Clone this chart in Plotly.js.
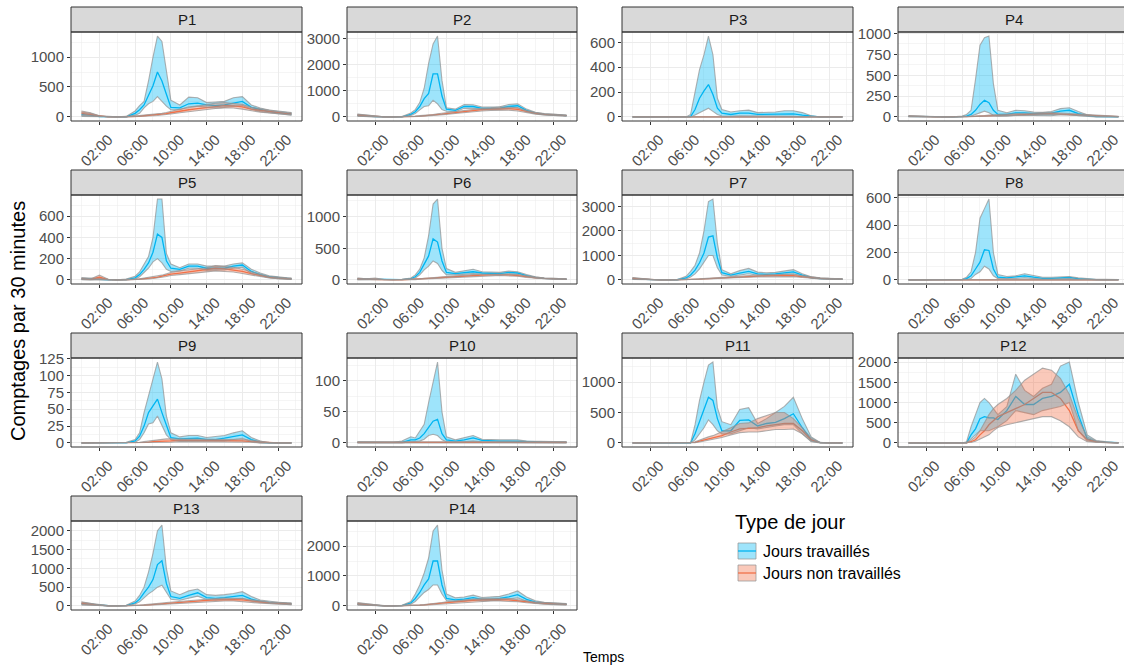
<!DOCTYPE html>
<html>
<head>
<meta charset="utf-8">
<script src="https://cdn.plot.ly/plotly-3.0.1.min.js"></script>
<style>
  html, body { margin: 0; padding: 0; background: #ffffff; }
  #graph { width: 1124px; height: 667px; }
</style>
</head>
<body>
<div id="graph"></div>
<script>
// Horaires (heures décimales) des points de comptage
const heures = [0,1,2,3,4,5,6,6.5,7,7.5,8,8.5,9,9.5,10,11,12,13,14,15,16,17,18,19,20,21,22,23,23.5];
const heuresTicks = [2,6,10,14,18,22];
const heuresLabels = ['02:00','06:00','10:00','14:00','18:00','22:00'];
const typesJour = ['Jours travaillés','Jours non travaillés'];
const sites = ['P1','P2','P3','P4','P5','P6','P7','P8','P9','P10','P11','P12','P13','P14'];

// P1
const p1TravMoy  = [40,30,5,0,0,2,60,120,200,350,520,750,600,380,160,150,220,230,200,190,200,230,260,160,120,90,70,60,50];
const p1TravBas  = [10,10,0,0,0,0,30,60,150,220,260,340,260,180,120,120,170,180,160,150,160,180,190,130,90,70,50,40,30];
const p1TravHaut = [80,60,15,2,2,10,100,190,260,600,1000,1350,1260,750,280,200,330,320,240,250,260,320,340,200,150,115,95,85,75];
const p1NonMoy   = [60,40,10,2,0,0,8,12,20,25,30,35,45,55,70,100,120,140,160,180,190,185,170,130,110,85,70,55,50];
const p1NonBas   = [20,15,0,0,0,0,3,5,10,15,20,25,30,40,50,70,90,110,130,140,150,150,130,100,80,65,50,40,35];
const p1NonHaut  = [100,70,20,5,2,3,15,20,30,35,45,50,60,75,95,130,155,180,210,230,240,230,210,160,135,110,90,75,70];
// P2
const p2TravMoy  = [60,30,10,2,0,5,100,200,400,700,900,1650,1650,800,300,250,400,400,330,330,340,400,430,250,150,100,80,60,50];
const p2TravBas  = [30,10,0,0,0,0,60,130,270,400,430,640,500,280,220,200,330,330,280,290,290,330,350,200,120,80,60,40,30];
const p2TravHaut = [100,60,20,5,2,15,150,280,550,1100,2050,2800,3100,1400,350,300,480,470,380,380,390,480,500,300,180,130,100,80,70];
const p2NonMoy   = [70,40,10,3,0,2,15,25,35,45,60,70,90,110,130,170,210,250,280,300,320,320,290,200,140,100,80,60,50];
const p2NonBas   = [30,15,0,0,0,0,8,15,22,30,40,50,65,80,100,130,170,200,230,250,260,260,230,160,110,80,60,45,35];
const p2NonHaut  = [110,70,25,6,2,5,25,35,50,60,80,95,120,140,165,210,260,300,330,350,380,380,350,250,170,125,100,80,70];
// P3
const p3TravMoy  = [0,0,0,0,0,0,0,2,60,150,210,260,180,70,30,20,30,30,20,20,20,25,25,15,5,0,0,0,0];
const p3TravBas  = [0,0,0,0,0,0,0,0,15,35,55,70,45,20,8,5,10,10,5,5,5,5,5,2,0,0,0,0,0];
const p3TravHaut = [0,0,0,0,0,0,0,20,200,380,500,650,500,150,60,40,50,55,35,35,40,50,50,35,10,0,0,0,0];
const p3NonMoy   = [0,0,0,0,0,0,0,0,0,0,0,0,0,0,0,0,1,1,1,1,1,0,0,0,0,0,0,0,0];
const p3NonBas   = [0,0,0,0,0,0,0,0,0,0,0,0,0,0,0,0,0,0,0,0,0,0,0,0,0,0,0,0,0];
const p3NonHaut  = [0,0,0,0,0,0,0,0,0,0,0,0,1,1,1,1,2,2,2,2,2,1,1,0,0,0,0,0,0];
// P4
const p4TravMoy  = [8,5,2,0,0,0,3,10,30,80,150,200,170,80,30,30,50,50,40,40,45,70,80,40,15,5,3,2,2];
const p4TravBas  = [0,0,0,0,0,0,0,3,10,30,50,70,50,20,10,10,20,20,15,15,15,30,30,15,5,0,0,0,0];
const p4TravHaut = [15,10,5,1,1,1,10,30,80,450,860,950,970,400,80,50,80,75,60,55,65,100,110,65,25,10,6,5,5];
const p4NonMoy   = [10,5,2,0,0,0,1,2,5,7,10,12,15,18,20,25,30,35,35,40,40,35,30,20,15,10,8,5,5];
const p4NonBas   = [5,2,0,0,0,0,0,0,2,3,5,6,8,10,12,15,20,25,25,28,28,25,20,12,8,5,4,2,2];
const p4NonHaut  = [15,10,4,1,0,0,3,4,8,11,15,18,22,26,28,35,42,45,48,52,52,48,42,28,22,15,12,8,8];
// P5
const p5TravMoy  = [10,10,5,2,0,3,20,50,100,160,260,430,400,180,110,100,130,130,110,110,110,130,140,80,50,30,20,12,10];
const p5TravBas  = [3,3,0,0,0,0,10,30,70,110,170,200,160,100,80,85,110,110,90,90,95,110,120,60,40,20,12,6,5];
const p5TravHaut = [20,20,15,5,1,8,35,75,150,220,400,760,760,250,150,115,150,150,130,130,130,150,160,100,65,40,28,20,18];
const p5NonMoy   = [10,5,25,3,0,0,5,8,12,15,20,25,35,45,55,65,75,85,95,110,105,95,80,60,40,25,18,12,10];
const p5NonBas   = [5,0,5,0,0,0,2,4,7,10,13,17,25,33,42,50,60,70,75,85,80,75,60,45,30,18,12,6,5];
const p5NonHaut  = [20,10,45,6,1,1,8,12,18,22,28,35,45,57,70,85,95,105,115,135,130,120,100,75,55,32,24,18,15];
// P6
const p6TravMoy  = [15,12,8,3,2,5,20,50,120,250,380,650,600,300,120,100,110,130,110,100,100,120,110,70,40,25,18,15,12];
const p6TravBas  = [5,5,2,0,0,2,10,30,80,160,220,300,260,150,80,80,90,100,90,80,80,95,90,55,30,18,12,10,8];
const p6TravHaut = [25,20,15,6,4,10,30,80,170,350,700,1200,1280,500,180,120,140,170,130,120,120,140,130,85,50,32,25,20,18];
const p6NonMoy   = [15,10,15,3,2,3,8,10,15,20,25,30,35,40,45,55,60,70,75,80,85,80,70,50,35,25,18,15,12];
const p6NonBas   = [5,4,5,0,0,0,4,6,10,14,18,22,26,30,35,45,50,58,62,65,70,65,58,40,28,18,12,10,8];
const p6NonHaut  = [30,18,30,6,4,6,12,15,20,26,32,38,45,50,55,65,72,85,90,95,100,95,85,60,45,32,25,20,18];
// P7
const p7TravMoy  = [50,30,10,3,2,8,80,200,400,700,1100,1750,1800,900,300,200,280,350,250,230,250,300,330,200,100,60,40,35,30];
const p7TravBas  = [20,10,3,0,0,2,40,120,250,450,700,1000,1000,500,200,150,200,250,190,180,190,230,250,150,70,40,25,20,18];
const p7TravHaut = [90,50,20,6,4,15,150,350,600,1100,2000,3200,3300,1500,420,250,380,470,320,290,310,380,420,250,130,80,55,50,45];
const p7NonMoy   = [60,35,15,5,2,3,10,15,25,35,45,55,70,80,95,110,130,150,160,170,180,185,175,130,90,65,50,40,35];
const p7NonBas   = [30,15,5,0,0,0,5,8,15,22,30,38,50,58,70,85,100,115,125,130,140,145,135,100,65,48,35,28,25];
const p7NonHaut  = [100,55,25,10,5,6,15,22,35,48,60,75,90,105,120,140,165,185,200,210,225,230,220,165,115,85,65,55,48];
// P8
const p8TravMoy  = [0,0,0,0,0,0,2,10,30,80,130,220,215,80,20,15,20,30,20,12,12,15,18,10,5,3,2,2,2];
const p8TravBas  = [0,0,0,0,0,0,0,3,10,40,60,100,80,30,10,8,10,15,10,6,6,8,10,5,2,1,0,0,0];
const p8TravHaut = [2,2,1,0,0,1,5,20,60,200,450,520,590,200,40,25,30,45,30,20,20,22,25,15,8,5,4,3,3];
const p8NonMoy   = [1,1,0,0,0,0,0,0,1,1,1,1,1,1,1,1,2,2,2,2,2,1,1,1,1,1,1,1,1];
const p8NonBas   = [0,0,0,0,0,0,0,0,0,0,0,0,0,0,0,0,0,0,0,0,0,0,0,0,0,0,0,0,0];
const p8NonHaut  = [2,2,1,0,0,0,0,1,2,2,2,3,3,3,3,3,4,4,4,4,4,3,3,2,2,2,2,2,2];
// P9
const p9TravMoy  = [0,0,0,0,0,0,3,10,25,45,55,65,45,25,8,6,7,7,5,5,7,10,12,5,1,0,0,0,0];
const p9TravBas  = [0,0,0,0,0,0,1,5,15,28,30,40,25,12,5,3,3,3,2,2,3,5,7,2,0,0,0,0,0];
const p9TravHaut = [0,0,0,0,0,1,5,15,45,70,95,120,95,40,15,9,11,11,8,9,11,15,18,8,3,0,0,0,0];
const p9NonMoy   = [0,0,0,0,0,0,0,0,1,1,2,2,3,3,3,4,4,4,4,4,4,3,3,2,1,0,0,0,0];
const p9NonBas   = [0,0,0,0,0,0,0,0,0,0,1,1,1,1,1,2,2,2,2,2,2,1,1,1,0,0,0,0,0];
const p9NonHaut  = [0,0,0,0,0,0,0,1,2,3,4,5,5,6,6,6,6,6,6,6,6,5,5,4,2,1,0,0,0];
// P10
const p10TravMoy  = [1,1,1,0,0,1,5,5,8,15,25,35,38,15,5,3,5,8,4,3,3,3,3,2,2,1,1,1,1];
const p10TravBas  = [0,0,0,0,0,0,2,2,3,6,12,14,12,5,2,1,2,3,2,1,1,1,1,1,1,0,0,0,0];
const p10TravHaut = [2,2,2,1,1,3,10,8,20,30,65,100,130,50,10,5,8,12,6,5,5,5,5,3,3,2,2,2,2];
const p10NonMoy   = [1,1,1,1,1,1,1,1,1,1,1,1,1,1,1,1,1,1,1,1,1,1,1,1,1,1,1,1,1];
const p10NonBas   = [0,0,0,0,0,0,0,0,0,0,0,0,0,0,0,0,0,0,0,0,0,0,0,0,0,0,0,0,0];
const p10NonHaut  = [2,2,2,2,2,2,2,2,2,2,2,2,2,2,2,2,2,2,2,2,2,2,2,2,2,2,2,2,2];
// P11
const p11TravMoy  = [0,0,0,0,0,0,0,0,150,350,550,750,700,400,200,200,370,380,280,320,340,400,480,250,50,5,0,0,0];
const p11TravBas  = [0,0,0,0,0,0,0,0,50,150,250,380,300,200,150,150,200,250,230,260,280,300,300,150,20,0,0,0,0];
const p11TravHaut = [0,0,0,0,0,0,0,5,300,700,1000,1280,1330,580,350,300,550,580,320,400,500,600,750,400,100,10,0,0,0];
const p11NonMoy   = [0,0,0,0,0,0,0,3,10,30,50,60,80,100,120,180,230,240,250,280,300,320,320,200,50,5,0,0,0];
const p11NonBas   = [0,0,0,0,0,0,0,0,5,15,30,40,50,70,90,130,170,180,180,200,220,220,230,150,30,3,0,0,0];
const p11NonHaut  = [0,0,0,0,0,0,0,5,20,50,80,100,120,150,180,250,320,330,400,450,500,500,400,250,80,5,0,0,0];
// P12
const p12TravMoy  = [0,0,0,0,0,0,0,5,200,350,600,650,620,620,580,800,1150,950,950,1100,1150,1250,1450,700,100,40,20,10,5];
const p12TravBas  = [0,0,0,0,0,0,0,0,100,200,300,300,300,350,400,550,800,750,700,800,850,900,1000,300,50,20,10,5,2];
const p12TravHaut = [0,0,0,0,0,0,0,30,400,700,1000,1100,1000,850,700,900,1700,1300,1150,1350,1450,1900,2000,1000,200,60,30,10,5];
const p12NonMoy   = [0,0,0,0,0,0,0,5,30,80,200,300,450,550,650,750,850,950,1100,1250,1250,1100,800,300,80,30,15,5,3];
const p12NonBas   = [0,0,0,0,0,0,0,0,10,40,100,150,200,300,380,450,500,550,600,650,650,550,400,150,30,10,5,2,1];
const p12NonHaut  = [0,0,0,0,0,0,0,10,60,150,300,500,700,850,950,1100,1300,1550,1700,1850,1800,1600,1200,600,150,50,20,10,5];
// P13
const p13TravMoy  = [60,40,15,5,3,10,80,180,350,500,700,1100,1200,600,250,200,280,350,220,200,220,250,280,180,120,90,70,60,55];
const p13TravBas  = [30,20,5,0,0,3,50,110,220,320,400,500,550,350,180,150,200,260,170,150,170,190,200,130,90,65,50,40,35];
const p13TravHaut = [100,70,25,10,6,20,130,280,500,900,1400,2000,2150,1000,400,300,400,450,300,280,300,330,380,250,160,120,100,85,80];
const p13NonMoy   = [70,45,15,4,2,3,10,15,20,30,40,50,60,70,80,100,120,140,150,160,170,170,160,130,100,80,70,60,55];
const p13NonBas   = [35,20,5,0,0,0,5,8,12,20,28,35,45,52,60,75,90,105,115,120,130,130,120,95,70,55,45,40,35];
const p13NonHaut  = [110,70,25,8,4,6,15,22,30,40,55,65,80,90,100,125,150,175,190,200,210,210,200,165,130,105,95,80,75];
// P14
const p14TravMoy  = [60,40,15,5,3,10,100,250,450,700,900,1500,1500,700,250,200,230,280,220,220,250,300,380,220,130,90,70,60,55];
const p14TravBas  = [30,20,5,0,0,3,60,150,300,450,550,700,700,400,180,150,170,210,170,170,190,230,270,160,95,65,50,40,35];
const p14TravHaut = [100,70,25,10,6,20,150,400,700,1100,1600,2500,2700,1200,400,270,300,360,280,290,320,400,500,300,170,120,100,85,80];
const p14NonMoy   = [70,45,15,4,2,3,10,15,25,35,45,60,75,90,110,140,170,190,200,210,210,200,180,140,100,80,70,60,55];
const p14NonBas   = [35,20,5,0,0,0,5,8,15,22,30,40,55,65,80,105,130,150,160,165,165,155,140,105,75,55,45,40,35];
const p14NonHaut  = [110,70,25,8,4,6,15,22,35,50,60,80,95,115,140,175,210,230,245,255,255,245,220,175,130,105,95,80,75];

// Pas des graduations verticales de chaque panneau
const pasY = [500,1000,200,250,200,500,1000,200,25,50,500,500,500,1000];

const series = [
  [p1TravMoy,p1TravBas,p1TravHaut,p1NonMoy,p1NonBas,p1NonHaut],
  [p2TravMoy,p2TravBas,p2TravHaut,p2NonMoy,p2NonBas,p2NonHaut],
  [p3TravMoy,p3TravBas,p3TravHaut,p3NonMoy,p3NonBas,p3NonHaut],
  [p4TravMoy,p4TravBas,p4TravHaut,p4NonMoy,p4NonBas,p4NonHaut],
  [p5TravMoy,p5TravBas,p5TravHaut,p5NonMoy,p5NonBas,p5NonHaut],
  [p6TravMoy,p6TravBas,p6TravHaut,p6NonMoy,p6NonBas,p6NonHaut],
  [p7TravMoy,p7TravBas,p7TravHaut,p7NonMoy,p7NonBas,p7NonHaut],
  [p8TravMoy,p8TravBas,p8TravHaut,p8NonMoy,p8NonBas,p8NonHaut],
  [p9TravMoy,p9TravBas,p9TravHaut,p9NonMoy,p9NonBas,p9NonHaut],
  [p10TravMoy,p10TravBas,p10TravHaut,p10NonMoy,p10NonBas,p10NonHaut],
  [p11TravMoy,p11TravBas,p11TravHaut,p11NonMoy,p11NonBas,p11NonHaut],
  [p12TravMoy,p12TravBas,p12TravHaut,p12NonMoy,p12NonBas,p12NonHaut],
  [p13TravMoy,p13TravBas,p13TravHaut,p13NonMoy,p13NonBas,p13NonHaut],
  [p14TravMoy,p14TravBas,p14TravHaut,p14NonMoy,p14NonBas,p14NonHaut]
];

// Styles
const W = 1124, H = 667;
const FONT = 'Liberation Sans, Arial, sans-serif';
const bleu = '#00B4F0', bleuFond = 'rgba(0,185,245,0.38)';
const orange = '#F2724A', orangeFond = 'rgba(242,114,74,0.38)';
const contour = 'rgba(150,150,150,0.75)';
const grille = '#EBEBEB';
const cadre = '#333333';

// Mise en page des facettes (pixels)
const colonnes = [[71,302],[347,577],[622,853],[898,1129]];
const rangee = r => ({ strip: 7 + 163*r, top: 32 + 163*r, bottom: 121 + 163*r });
const xr = p => p / W;
const yr = p => 1 - p / H;
const xMin = -1.175, xMax = 24.675;

const traces = [];
const layout = {
  width: W, height: H,
  margin: {l:0, r:0, t:0, b:0},
  paper_bgcolor: '#ffffff', plot_bgcolor: '#ffffff',
  showlegend: false,
  font: {family: FONT, color: '#4D4D4D'},
  shapes: [], annotations: []
};

sites.forEach((nom, i) => {
  const r = Math.floor(i / 4), c = i % 4;
  const g = rangee(r);
  const [x0, x1full] = colonnes[c];
  const x1 = Math.min(x1full, W);
  const s = i === 0 ? '' : String(i + 1);
  const xa = 'x' + s, ya = 'y' + s;
  const [tMoy, tBas, tHaut, nMoy, nBas, nHaut] = series[i];

  const hi = Math.max(...tHaut, ...nHaut, ...tMoy, ...nMoy);
  const lo = Math.min(...tBas, ...nBas, ...tMoy, ...nMoy);
  const d = hi - lo;
  const xEnd = xMin + (xMax - xMin) * (x1 - x0) / (x1full - x0);

  layout['xaxis' + s] = {
    domain: [xr(x0), xr(x1)], anchor: ya, range: [xMin, xEnd],
    tickmode: 'array', tickvals: heuresTicks, ticktext: heuresLabels,
    tickangle: -45, ticks: 'outside', ticklen: 3, tickcolor: cadre, tickwidth: 1,
    ticklabelshift: 9,
    tickfont: {family: FONT, size: 15, color: '#4D4D4D'},
    showgrid: true, gridcolor: grille, gridwidth: 1,
    minor: {tickmode: 'array', tickvals: [0,4,8,12,16,20,24], showgrid: true, gridcolor: grille, gridwidth: 0.5, ticks: ''},
    zeroline: false, showline: false, fixedrange: true
  };
  layout['yaxis' + s] = {
    domain: [yr(g.bottom), yr(g.top)], anchor: xa,
    range: [lo - 0.05 * d, hi + 0.05 * d],
    tick0: 0, dtick: pasY[i], ticks: 'outside', ticklen: 3, tickcolor: cadre, tickwidth: 1,
    tickfont: {family: FONT, size: 15, color: '#4D4D4D'},
    showgrid: true, gridcolor: grille, gridwidth: 1,
    minor: {tick0: 0, dtick: pasY[i] / 2, showgrid: true, gridcolor: grille, gridwidth: 0.5, ticks: ''},
    zeroline: false, showline: false, fixedrange: true
  };

  const base = {x: heures, xaxis: xa, yaxis: ya, mode: 'lines', hoverinfo: 'skip', showlegend: false};
  // Moyennes, puis rubans (intervalle) par-dessus
  traces.push(Object.assign({}, base, {y: tMoy, name: typesJour[0], line: {color: bleu, width: 1.3}}));
  traces.push(Object.assign({}, base, {y: nMoy, name: typesJour[1], line: {color: orange, width: 1.3}}));
  traces.push(Object.assign({}, base, {y: tBas, line: {color: contour, width: 1.1}}));
  traces.push(Object.assign({}, base, {y: tHaut, line: {color: contour, width: 1.1}, fill: 'tonexty', fillcolor: bleuFond}));
  traces.push(Object.assign({}, base, {y: nBas, line: {color: contour, width: 1.1}}));
  traces.push(Object.assign({}, base, {y: nHaut, line: {color: contour, width: 1.1}, fill: 'tonexty', fillcolor: orangeFond}));

  // Bandeau de titre et cadre du panneau
  layout.shapes.push({type: 'rect', xref: 'paper', yref: 'paper',
    x0: xr(x0), x1: xr(x1full), y0: yr(g.top), y1: yr(g.strip),
    fillcolor: '#D9D9D9', line: {color: cadre, width: 1}, layer: 'above'});
  layout.shapes.push({type: 'rect', xref: 'paper', yref: 'paper',
    x0: xr(x0), x1: xr(x1full), y0: yr(g.bottom), y1: yr(g.top),
    fillcolor: 'rgba(0,0,0,0)', line: {color: cadre, width: 1}, layer: 'above'});
  layout.annotations.push({xref: 'paper', yref: 'paper',
    x: xr((x0 + x1full) / 2), y: yr((g.strip + g.top) / 2), text: nom, showarrow: false,
    xanchor: 'center', yanchor: 'middle', font: {family: FONT, size: 15, color: '#1A1A1A'}});
});

// Titres des axes
layout.annotations.push({xref: 'paper', yref: 'paper', x: xr(18), y: yr(321),
  text: 'Comptages par 30 minutes', textangle: -90, showarrow: false,
  xanchor: 'center', yanchor: 'middle', font: {family: FONT, size: 20, color: '#000000'}});
layout.annotations.push({xref: 'paper', yref: 'paper', x: xr(603), y: yr(657),
  text: 'Temps', showarrow: false, xanchor: 'center', yanchor: 'middle',
  font: {family: FONT, size: 14, color: '#000000'}});

// Légende
layout.annotations.push({xref: 'paper', yref: 'paper', x: xr(733), y: yr(522),
  text: 'Type de jour', showarrow: false, xanchor: 'left', yanchor: 'middle',
  font: {family: FONT, size: 20, color: '#000000'}});
[[bleu, bleuFond, 551], [orange, orangeFond, 573]].forEach(([ligne, fond, yc], k) => {
  layout.shapes.push({type: 'rect', xref: 'paper', yref: 'paper',
    x0: xr(738), x1: xr(756), y0: yr(yc + 8), y1: yr(yc - 8),
    fillcolor: fond, line: {color: contour, width: 1}});
  layout.shapes.push({type: 'line', xref: 'paper', yref: 'paper',
    x0: xr(738), x1: xr(756), y0: yr(yc), y1: yr(yc), line: {color: ligne, width: 1.3}});
  layout.annotations.push({xref: 'paper', yref: 'paper', x: xr(761), y: yr(yc),
    text: typesJour[k], showarrow: false, xanchor: 'left', yanchor: 'middle',
    font: {family: FONT, size: 16, color: '#000000'}});
});

Plotly.newPlot('graph', traces, layout, {displayModeBar: false, staticPlot: true});
</script>
</body>
</html>
